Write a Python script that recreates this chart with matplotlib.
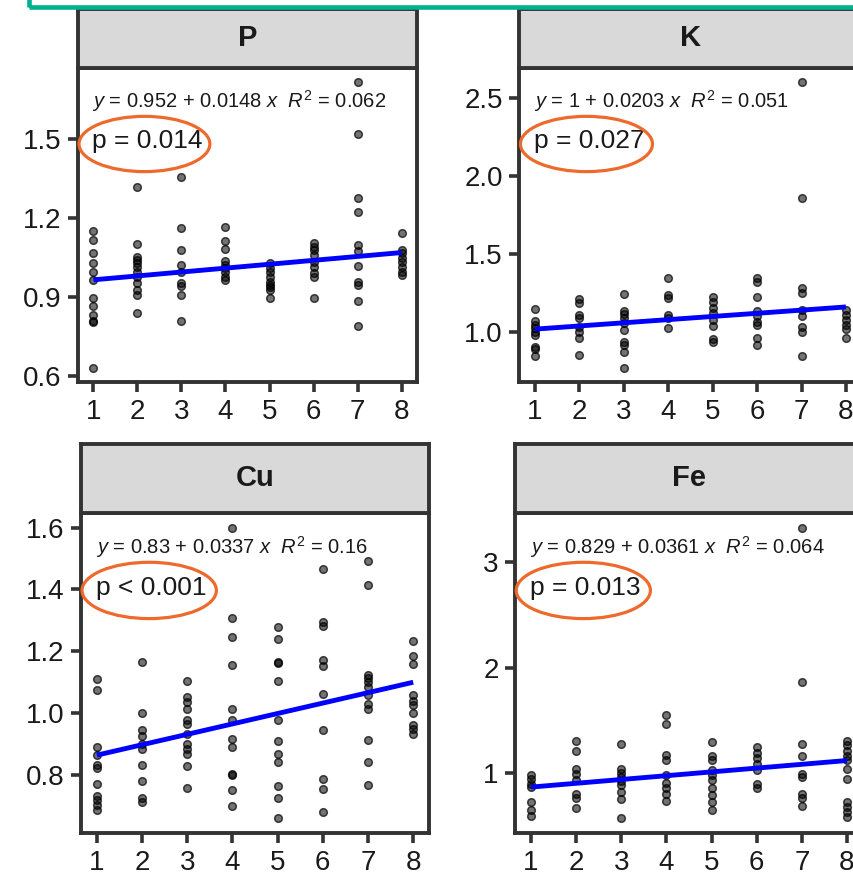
import matplotlib
matplotlib.use("Agg")
import matplotlib.pyplot as plt
from matplotlib.patches import Ellipse, Rectangle

plt.rcParams['font.family'] = ['Liberation Sans', 'DejaVu Sans']
plt.rcParams['mathtext.fontset'] = 'custom'
plt.rcParams['mathtext.rm'] = 'Liberation Sans'
plt.rcParams['mathtext.it'] = 'Liberation Sans:italic'
plt.rcParams['mathtext.bf'] = 'Liberation Sans:bold'

groups = [1, 2, 3, 4, 5, 6, 7, 8]

# values per group (x = 1..8)
P_values = [
    [1.153, 1.118, 1.070, 1.029, 0.998, 0.965, 0.899, 0.867, 0.833, 0.811, 0.808, 0.633],
    [1.320, 1.103, 1.054, 1.042, 1.029, 1.016, 0.995, 0.979, 0.953, 0.928, 0.911, 0.842],
    [1.358, 1.162, 1.079, 1.023, 0.995, 0.953, 0.944, 0.909, 0.810],
    [1.166, 1.115, 1.082, 1.038, 1.023, 1.010, 0.995, 0.979, 0.966],
    [1.029, 1.013, 0.995, 0.979, 0.960, 0.949, 0.938, 0.928, 0.899],
    [1.105, 1.093, 1.080, 1.061, 1.036, 1.014, 0.991, 0.979, 0.899],
    [1.717, 1.519, 1.279, 1.226, 1.099, 1.076, 1.020, 0.960, 0.949, 0.887, 0.791],
    [1.143, 1.080, 1.067, 1.048, 1.036, 1.016, 0.998, 0.987],
]
K_values = [
    [1.149, 1.074, 1.047, 1.025, 1.004, 0.983, 0.908, 0.891, 0.850],
    [1.213, 1.186, 1.111, 1.089, 1.036, 1.004, 0.965, 0.854],
    [1.245, 1.136, 1.115, 1.094, 1.057, 1.015, 0.940, 0.919, 0.871, 0.773],
    [1.350, 1.239, 1.222, 1.111, 1.089, 1.025],
    [1.228, 1.196, 1.158, 1.122, 1.079, 1.042, 0.957, 0.940],
    [1.350, 1.324, 1.228, 1.136, 1.107, 1.068, 1.047, 0.965, 0.919],
    [2.602, 1.859, 1.282, 1.250, 1.143, 1.107, 1.036, 1.004, 0.850],
    [1.143, 1.111, 1.079, 1.047, 1.021, 0.965],
]
Cu_values = [
    [1.111, 1.075, 0.890, 0.863, 0.831, 0.823, 0.769, 0.732, 0.718, 0.704, 0.686],
    [1.165, 1.000, 0.944, 0.926, 0.901, 0.883, 0.833, 0.780, 0.724, 0.713],
    [1.105, 1.052, 1.036, 1.014, 0.976, 0.966, 0.933, 0.901, 0.883, 0.866, 0.829, 0.758],
    [1.600, 1.306, 1.247, 1.156, 1.012, 0.976, 0.917, 0.890, 0.804, 0.799, 0.751, 0.700],
    [1.277, 1.238, 1.165, 1.163, 1.105, 0.976, 0.909, 0.866, 0.842, 0.765, 0.726, 0.659],
    [1.466, 1.296, 1.283, 1.173, 1.152, 1.062, 0.944, 0.788, 0.754, 0.681],
    [1.492, 1.414, 1.124, 1.113, 1.100, 1.084, 1.057, 1.030, 1.014, 0.912, 0.842, 0.767],
    [1.234, 1.184, 1.159, 1.057, 1.040, 1.027, 1.001, 0.960, 0.949, 0.933],
]
Fe_values = [
    [0.978, 0.946, 0.899, 0.867, 0.725, 0.646, 0.593],
    [1.300, 1.205, 1.035, 0.994, 0.931, 0.804, 0.757, 0.662],
    [1.272, 1.041, 1.003, 0.962, 0.921, 0.883, 0.820, 0.751, 0.567],
    [1.547, 1.468, 1.168, 1.120, 0.978, 0.908, 0.852, 0.804, 0.732],
    [1.294, 1.161, 1.120, 1.025, 0.978, 0.931, 0.852, 0.788, 0.719, 0.646],
    [1.247, 1.193, 1.142, 1.089, 1.025, 0.890, 0.852],
    [3.332, 1.863, 1.278, 1.161, 0.994, 0.962, 0.795, 0.757, 0.687],
    [1.300, 1.262, 1.212, 1.165, 1.120, 1.041, 0.946, 0.725, 0.678, 0.630, 0.583],
]

panels = ['P', 'K', 'Cu', 'Fe']
panel_values = [P_values, K_values, Cu_values, Fe_values]
intercepts = [0.952, 1, 0.83, 0.829]
slopes = [0.0148, 0.0203, 0.0337, 0.0361]
r2_labels = ['0.062', '0.051', '0.16', '0.064']
p_labels = ['p = 0.014', 'p = 0.027', 'p < 0.001', 'p = 0.013']
y_ticks = [[0.6, 0.9, 1.2, 1.5], [1.0, 1.5, 2.0, 2.5], [0.8, 1.0, 1.2, 1.4, 1.6], [1, 2, 3]]
y_ticklabels = [['0.6', '0.9', '1.2', '1.5'], ['1.0', '1.5', '2.0', '2.5'],
                ['0.8', '1.0', '1.2', '1.4', '1.6'], ['1', '2', '3']]

W, H = 854, 877
fig = plt.figure(figsize=(W / 100, H / 100), dpi=100)

# panel boxes in pixels: left, top, right, bottom, strip top
boxes = [(78, 68, 417, 382, 9), (519.4, 68, 861.5, 382, 9),
         (81, 513, 429, 833, 444), (515.2, 513, 862.8, 833, 444)]

dark = '#333333'
for i, name in enumerate(panels):
    l, t, r, b, st = boxes[i]
    ax = fig.add_axes([l / W, (H - b) / H, (r - l) / W, (b - t) / H])
    strip = fig.add_axes([l / W, (H - t) / H, (r - l) / W, (t - st) / H])

    xs, ys = [], []
    for g, vals in zip(groups, panel_values[i]):
        xs += [g] * len(vals)
        ys += vals
    ax.scatter(xs, ys, s=30, facecolors=(0, 0, 0, 0.55), edgecolors=(0, 0, 0, 0.7),
               linewidths=1.1, zorder=2)
    fit_x = [groups[0], groups[-1]]
    fit_y = [intercepts[i] + slopes[i] * v for v in fit_x]
    ax.plot(fit_x, fit_y, color='#0000FF', lw=3.5, zorder=3, solid_capstyle='butt')
    ax.margins(0.05)

    ax.set_xticks(groups)
    ax.set_xticklabels([str(g) for g in groups])
    ax.set_yticks(y_ticks[i])
    ax.set_yticklabels(y_ticklabels[i])
    ax.tick_params(length=7, width=2.6, color=dark, pad=5, labelsize=20,
                   labelcolor='#1a1a1a')
    for sp in ax.spines.values():
        sp.set_linewidth(2.8)
        sp.set_color(dark)

    eq = rf"$y$ = {intercepts[i]:g} + {slopes[i]:g} $x$  $R^2$ = {r2_labels[i]}"
    ax.text(0.042, 0.895, eq, transform=ax.transAxes, fontsize=14.5,
            va='center', ha='left', color='#1a1a1a')
    ax.text(0.042, 0.767, p_labels[i], transform=ax.transAxes, fontsize=19,
            va='center', ha='left', color='#1a1a1a')
    ax.add_patch(Ellipse((0.196, 0.758), 0.386, 0.176, transform=ax.transAxes,
                         fill=False, edgecolor='#EE6A2C', lw=2.3, clip_on=False,
                         zorder=4))

    strip.set_facecolor('#D9D9D9')
    strip.set_xticks([])
    strip.set_yticks([])
    for sp in strip.spines.values():
        sp.set_linewidth(2.8)
        sp.set_color(dark)
    strip.text(0.5, 0.5, name, transform=strip.transAxes, ha='center',
               va='center', fontsize=21, fontweight='bold', color='#1a1a1a')

# teal highlight frame (bottom-left corner visible)
fig.patches.append(Rectangle((29 / W, (H - 7) / H), 1.2, 0.5,
                             transform=fig.transFigure, fill=False,
                             edgecolor='#00B08F', lw=3.3, zorder=10))

fig.savefig('out.png', dpi=100)
